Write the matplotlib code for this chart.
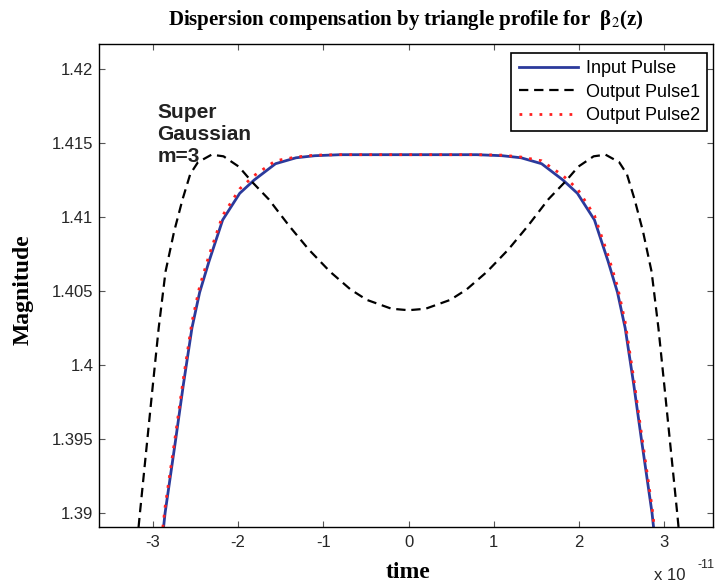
import numpy as np
import matplotlib
matplotlib.use('Agg')
import matplotlib.pyplot as plt

plt.rcParams['mathtext.fontset'] = 'stix'

# time in units of 1e-11 s (curves are symmetric about t=0)
t_in = [0.0, 0.4, 0.8, 1.10, 1.32, 1.56, 1.81, 1.98, 2.18, 2.34, 2.45, 2.54, 2.64, 2.73, 2.855, 2.92]
input_pulse = [1.41421, 1.41421, 1.41421, 1.41414, 1.4140, 1.4136, 1.4125, 1.4116, 1.4098, 1.4070,
               1.4049, 1.4025, 1.3987, 1.3950, 1.3900, 1.3865]
output_pulse2 = [1.41421, 1.41421, 1.41421, 1.41418, 1.41405, 1.4138, 1.4128, 1.4119, 1.4101, 1.4074,
                 1.4053, 1.4029, 1.3991, 1.3954, 1.3904, 1.3870]

t_out1 = [0.0, 0.2, 0.49, 0.68, 0.92, 1.17, 1.40, 1.64, 1.84, 1.99, 2.17, 2.31, 2.47, 2.56, 2.65,
          2.75, 2.85, 2.93, 3.01, 3.08, 3.15, 3.20]
output_pulse1 = [1.4037, 1.4038, 1.4044, 1.4051, 1.4063, 1.4078, 1.4094, 1.4112, 1.4124, 1.4134,
                 1.4141, 1.41421, 1.4137, 1.4129, 1.4112, 1.4090, 1.4063, 1.4025, 1.3980, 1.3940,
                 1.3900, 1.3870]

x_ticks = [-3, -2, -1, 0, 1, 2, 3]
y_ticks = [1.39, 1.395, 1.40, 1.405, 1.41, 1.415, 1.42]
y_tick_labels = ['1.39', '1.395', '1.4', '1.405', '1.41', '1.415', '1.42']


def mirror(t, v):
    t = np.asarray(t)
    v = np.asarray(v)
    tt = np.concatenate([-t[::-1], t[1:]]) * 1e-11
    vv = np.concatenate([v[::-1], v[1:]])
    return tt, vv


fig = plt.figure(figsize=(7.15, 5.87), dpi=100)
ax = fig.add_axes([99 / 715, 1 - 527 / 587, 614 / 715, 483 / 587])

tx, vx = mirror(t_in, input_pulse)
ax.plot(tx, vx, color='#2b3a9c', lw=2.0, label='Input Pulse')
tx, vx = mirror(t_out1, output_pulse1)
ax.plot(tx, vx, color='black', lw=1.6, linestyle=(0, (4.2, 2.6)), label='Output Pulse1')
tx, vx = mirror(t_in, output_pulse2)
ax.plot(tx, vx, color='#ff2020', lw=2, linestyle=(0, (1, 2.6)), label='Output Pulse2')

ax.set_xlim(-3.63e-11, 3.57e-11)
ax.set_ylim(1.38905, 1.42169)
ax.set_xticks([v * 1e-11 for v in x_ticks])
ax.set_xticklabels([str(v) for v in x_ticks])
ax.set_yticks(y_ticks)
ax.set_yticklabels(y_tick_labels)
ax.tick_params(direction='in', top=True, right=True, length=4, width=0.8, color='#555555',
               labelsize=12, labelcolor='#262626')
ax.tick_params(axis='x', pad=6)
ax.tick_params(axis='y', pad=4)
for lab in ax.get_xticklabels() + ax.get_yticklabels():
    lab.set_family('Liberation Sans')
for s in ax.spines.values():
    s.set_linewidth(1.0)
    s.set_color('black')

leg = ax.legend(loc='upper right', bbox_to_anchor=(0.990, 0.981), borderaxespad=0,
                prop={'family': 'Liberation Sans', 'size': 13}, handlelength=3.3,
                handletextpad=0.4, labelspacing=0.35, borderpad=0.4, fancybox=False,
                framealpha=1)
leg.get_frame().set_edgecolor('black')
leg.get_frame().set_linewidth(1.2)

ax.text(-2.948e-11, 1.4177, 'Super\nGaussian\nm=3', family='Liberation Sans', fontweight='bold',
        fontsize=15, va='top', ha='left', color='#222222')

fig.text(406 / 715, 1 - 20 / 587, r'Dispersion compensation by triangle profile for  β$_2$(z)',
         family='Liberation Serif', fontweight='bold', fontsize=15, ha='center', va='center')
fig.text(408 / 715, 1 - 572 / 587, 'time', family='Liberation Serif', fontweight='bold',
         fontsize=17, ha='center', va='center')
fig.text(23 / 715, 1 - 290 / 587, 'Magnitude', family='Liberation Serif', fontweight='bold',
         fontsize=17, ha='center', va='center', rotation=90)
fig.text(654 / 715, 1 - 575 / 587, 'x 10', family='Liberation Sans', fontsize=12,
         ha='left', va='center', color='#262626')
fig.text(697 / 715, 1 - 565 / 587, '-11', family='Liberation Sans', fontsize=9,
         ha='left', va='center', color='#262626')

fig.savefig('out.png', dpi=100)
